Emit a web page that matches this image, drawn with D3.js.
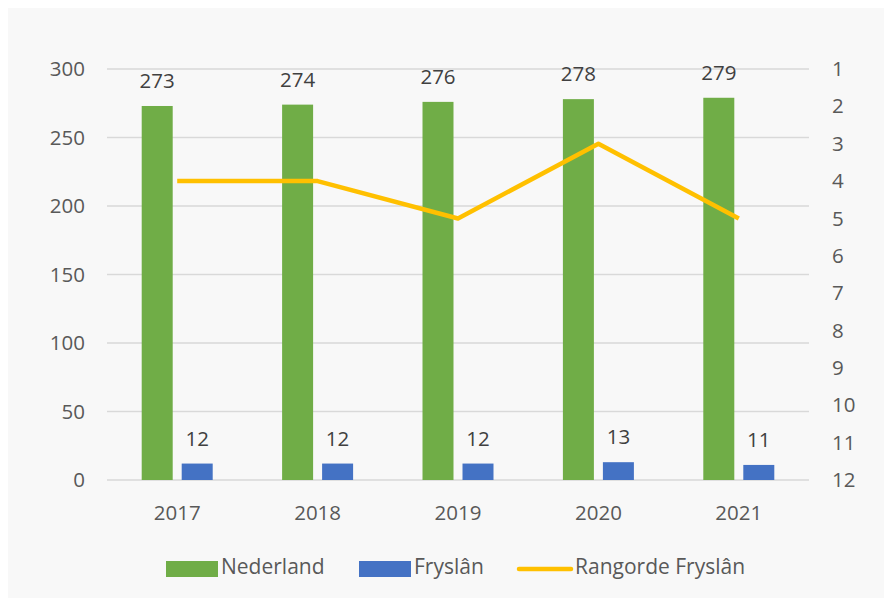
<!DOCTYPE html>
<html>
<head>
<meta charset="utf-8">
<script src="https://cdn.jsdelivr.net/npm/d3@7"></script>
<style>
  body { margin: 0; background: #fff; }
  text { font-family: "Open Sans", "Noto Sans", sans-serif; }
</style>
</head>
<body>
<div id="chart"></div>
<script>
// data
var years = ["2017", "2018", "2019", "2020", "2021"];
var nederland = [273, 274, 276, 278, 279];
var fryslan = [12, 12, 12, 13, 11];
var rangorde = [4, 4, 5, 3, 5];
var leftTicks = [0, 50, 100, 150, 200, 250, 300];
var rightTicks = [1, 2, 3, 4, 5, 6, 7, 8, 9, 10, 11, 12];

var W = 884, H = 598;
var margin = {top: 69, right: 75, bottom: 118, left: 107},
    width = W - margin.left - margin.right,
    height = H - margin.top - margin.bottom;
var fs = "20.5px";

var svg = d3.select("#chart")
  .append("svg")
  .attr("width", W)
  .attr("height", H);

// light panel
svg.append("rect")
  .attr("x", 8).attr("y", 8)
  .attr("width", W - 8).attr("height", H - 8)
  .attr("fill", "#f8f8f8");

var g = svg.append("g")
  .attr("transform", "translate(" + margin.left + "," + margin.top + ")");

var x = d3.scaleBand().domain(years).range([0, width]);
var y = d3.scaleLinear().domain([0, 300]).range([height, 0]);
var y2 = d3.scaleLinear().domain([1, 12]).range([0, height]);

// gridlines
g.selectAll(".grid")
  .data(leftTicks)
  .enter().append("line")
  .attr("x1", 0).attr("x2", width)
  .attr("y1", function(d) { return y(d); })
  .attr("y2", function(d) { return y(d); })
  .attr("stroke", "#d9d9d9")
  .attr("stroke-width", 1.3);

// left axis
var la = g.append("g")
  .call(d3.axisLeft(y).tickValues(leftTicks).tickSize(0).tickPadding(22));
la.select(".domain").remove();
la.selectAll("text").style("font-size", fs).attr("fill", "#595959");

// right axis
var ra = g.append("g")
  .attr("transform", "translate(" + width + ",0)")
  .call(d3.axisRight(y2).tickValues(rightTicks).tickSize(0).tickPadding(23));
ra.select(".domain").remove();
ra.selectAll("text").style("font-size", fs).attr("fill", "#595959");

// bottom axis
var ba = g.append("g")
  .attr("transform", "translate(0," + height + ")")
  .call(d3.axisBottom(x).tickSize(0).tickPadding(25));
ba.select(".domain").remove();
ba.selectAll("text").style("font-size", fs).attr("fill", "#595959");

var barW = 31, gap = 9;
var off1 = x.bandwidth() / 2 - gap / 2 - barW;
var off2 = x.bandwidth() / 2 + gap / 2;

g.selectAll(".ned")
  .data(nederland)
  .enter().append("rect")
  .attr("x", function(d, i) { return x(years[i]) + off1; })
  .attr("y", function(d) { return y(d); })
  .attr("width", barW)
  .attr("height", function(d) { return height - y(d); })
  .attr("fill", "#70ad47");

g.selectAll(".fry")
  .data(fryslan)
  .enter().append("rect")
  .attr("x", function(d, i) { return x(years[i]) + off2; })
  .attr("y", function(d) { return y(d); })
  .attr("width", barW)
  .attr("height", function(d) { return height - y(d); })
  .attr("fill", "#4472c4");

// data labels
g.selectAll(".nedLab")
  .data(nederland)
  .enter().append("text")
  .attr("x", function(d, i) { return x(years[i]) + off1 + barW / 2; })
  .attr("y", function(d) { return y(d) - 18; })
  .attr("text-anchor", "middle")
  .style("font-size", fs)
  .attr("fill", "#404040")
  .text(function(d) { return d; });

g.selectAll(".fryLab")
  .data(fryslan)
  .enter().append("text")
  .attr("x", function(d, i) { return x(years[i]) + off2 + barW / 2; })
  .attr("y", function(d) { return y(d) - 18; })
  .attr("text-anchor", "middle")
  .style("font-size", fs)
  .attr("fill", "#404040")
  .text(function(d) { return d; });

// rank line
var line = d3.line()
  .x(function(d, i) { return x(years[i]) + x.bandwidth() / 2; })
  .y(function(d) { return y2(d); });

g.append("path")
  .datum(rangorde)
  .attr("d", line)
  .attr("fill", "none")
  .attr("stroke", "#ffc000")
  .attr("stroke-width", 4.5)
  .attr("stroke-linejoin", "round");

// legend
var lg = svg.append("g").attr("transform", "translate(0,567)");
lg.append("rect").attr("x", 166).attr("y", -6).attr("width", 52).attr("height", 16).attr("fill", "#70ad47");
lg.append("text").attr("x", 221).attr("y", 0).attr("dy", "0.35em").style("font-size", "21px").attr("fill", "#595959").text("Nederland");
lg.append("rect").attr("x", 359).attr("y", -6).attr("width", 52).attr("height", 16).attr("fill", "#4472c4");
lg.append("text").attr("x", 414).attr("y", 0).attr("dy", "0.35em").style("font-size", "21px").attr("fill", "#595959").text("Fryslân");
lg.append("line").attr("x1", 519).attr("x2", 571).attr("y1", 2).attr("y2", 2)
  .attr("stroke", "#ffc000").attr("stroke-width", 4.5).attr("stroke-linecap", "round");
lg.append("text").attr("x", 575).attr("y", 0).attr("dy", "0.35em").style("font-size", "21px").attr("fill", "#595959").text("Rangorde Fryslân");
</script>
</body>
</html>
